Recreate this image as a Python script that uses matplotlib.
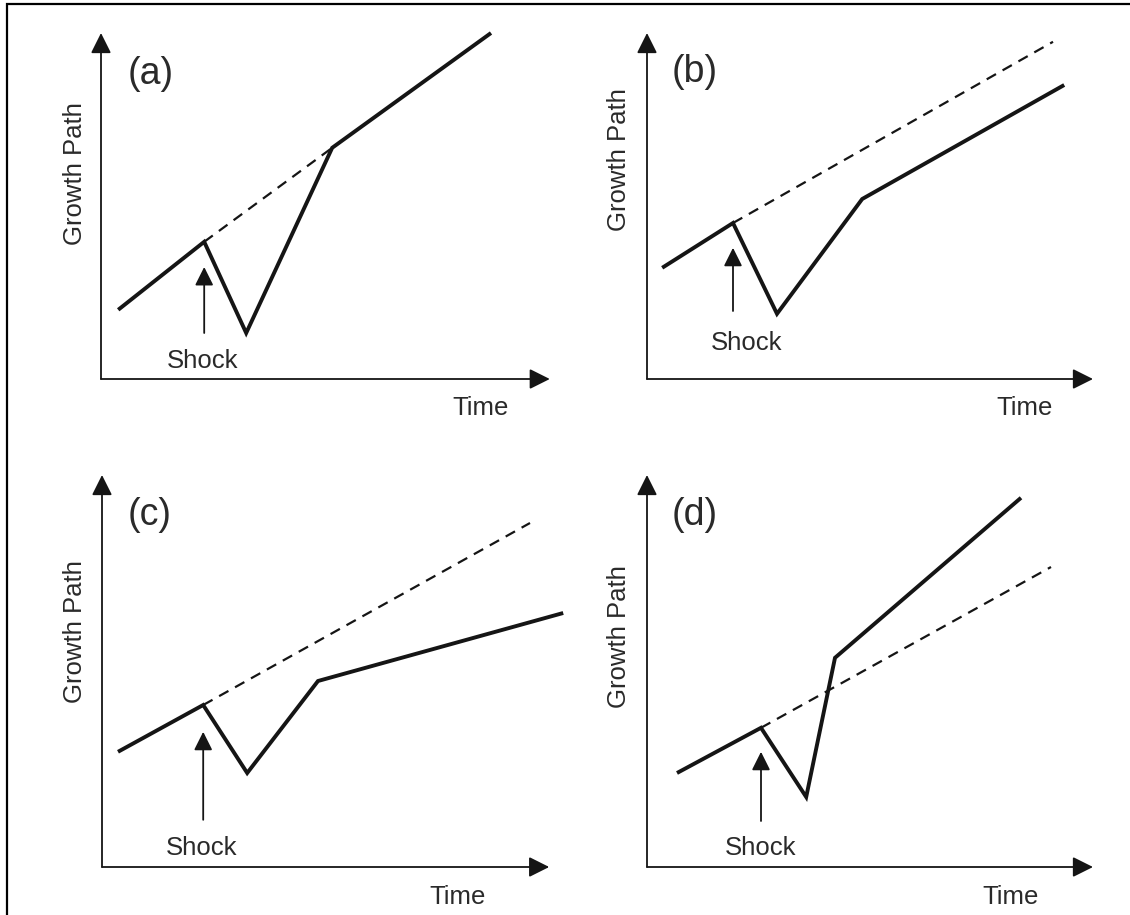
import matplotlib
matplotlib.use("Agg")
import matplotlib.pyplot as plt
from matplotlib.patches import Rectangle

plt.rcParams['font.family'] = ['Liberation Sans', 'DejaVu Sans']

# ---------------- data (arbitrary units: time, growth) ----------------
panel_labels = ["(a)", "(b)", "(c)", "(d)"]
x_label = "Time"
y_label = "Growth Path"
shock_label = "Shock"

# axis lengths (time max, growth max) per panel
time_max = [11.22, 11.15, 11.18, 11.15]
growth_max = [8.65, 8.65, 9.8, 9.8]

# actual (solid) growth paths
a_time = [0.43, 2.58, 3.63, 5.78, 9.75]
a_growth = [1.73, 3.43, 1.15, 5.78, 8.65]
b_time = [0.38, 2.15, 3.25, 5.38, 10.43]
b_growth = [2.78, 3.90, 1.63, 4.50, 7.35]
c_time = [0.40, 2.53, 3.63, 5.40, 11.53]
c_growth = [2.88, 4.05, 2.35, 4.65, 6.35]
d_time = [0.75, 2.85, 3.98, 4.70, 9.35]
d_growth = [2.35, 3.48, 1.75, 5.23, 9.23]

# pre-shock trend (dashed) paths
a_trend_time = [2.58, 5.78]
a_trend_growth = [3.43, 5.78]
b_trend_time = [2.15, 10.15]
b_trend_growth = [3.90, 8.43]
c_trend_time = [2.53, 10.70]
c_trend_growth = [4.05, 8.60]
d_trend_time = [2.85, 10.10]
d_trend_growth = [3.48, 7.50]

# shock arrows: time, growth of tail, growth of head
shock_time = [2.58, 2.15, 2.53, 2.85]
shock_tail = [1.15, 1.70, 1.18, 1.15]
shock_head = [2.80, 3.28, 3.38, 2.88]

solid_time = [a_time, b_time, c_time, d_time]
solid_growth = [a_growth, b_growth, c_growth, d_growth]
trend_time = [a_trend_time, b_trend_time, c_trend_time, d_trend_time]
trend_growth = [a_trend_growth, b_trend_growth, c_trend_growth, d_trend_growth]

# ---------------- layout (pixels) ----------------
W, H = 1130, 915
corners = [(101, 379), (647, 379), (102, 867), (647, 867)]
UNIT = 40.0  # pixels per data unit

# text placements (data units)
shock_text_pos = [(2.53, 0.45), (2.48, 0.90), (2.50, 0.48), (2.83, 0.48)]
time_text_pos = [(9.50, -0.73), (9.45, -0.73), (8.90, -0.75), (9.10, -0.75)]
plabel_pos = [(1.25, 7.63), (1.20, 7.68), (1.18, 8.80), (1.20, 8.80)]
ylabel_pos = [(-0.65, 5.13), (-0.70, 5.48), (-0.68, 5.88), (-0.70, 5.75)]

ink = '#151515'
txt = '#2a2a2a'

fig = plt.figure(figsize=(W / 100, H / 100), dpi=100)
fig.patch.set_facecolor('white')

# outer frame (left/top visible)
fig.add_artist(Rectangle((6.5 / W, -0.01), 1.2, (H - 3.5) / H + 0.01,
                         transform=fig.transFigure, fill=False,
                         edgecolor='black', linewidth=1.6))

for i in range(4):
    cx, cy = corners[i]
    wpx = time_max[i] * UNIT
    hpx = growth_max[i] * UNIT
    ax = fig.add_axes([cx / W, (H - cy) / H, wpx / W, hpx / H])
    ax.set_xlim(0, time_max[i])
    ax.set_ylim(0, growth_max[i])
    ax.axis('off')

    # axes as arrows
    arrow_kw = dict(arrowstyle='-|>', color=ink, lw=1.3,
                    mutation_scale=31, shrinkA=0, shrinkB=0)
    ax.annotate('', xy=(time_max[i], 0), xytext=(0, 0),
                arrowprops=arrow_kw, annotation_clip=False)
    ax.annotate('', xy=(0, growth_max[i]), xytext=(0, 0),
                arrowprops=arrow_kw, annotation_clip=False)

    # trend (dashed)
    ax.plot(trend_time[i], trend_growth[i], color=ink, lw=1.6,
            dashes=(4.8, 3.4), clip_on=False, solid_capstyle='butt')
    # actual path (solid)
    ax.plot(solid_time[i], solid_growth[i], color=ink, lw=2.8,
            clip_on=False, solid_joinstyle='miter', solid_capstyle='butt')

    # shock arrow
    ax.annotate('', xy=(shock_time[i], shock_head[i]),
                xytext=(shock_time[i], shock_tail[i]),
                arrowprops=dict(arrowstyle='-|>', color=ink, lw=1.3,
                                mutation_scale=28, shrinkA=0, shrinkB=0),
                annotation_clip=False)

    ax.text(*shock_text_pos[i], shock_label, fontsize=18.5, color=txt,
            ha='center', va='center')
    ax.text(*time_text_pos[i], x_label, fontsize=18.5, color=txt,
            ha='center', va='center')
    ax.text(*plabel_pos[i], panel_labels[i], fontsize=27, color=txt,
            ha='center', va='center')
    ax.text(*ylabel_pos[i], y_label, fontsize=18.5, color=txt,
            ha='center', va='center', rotation=90)

fig.savefig('out.png', dpi=100, facecolor='white')
